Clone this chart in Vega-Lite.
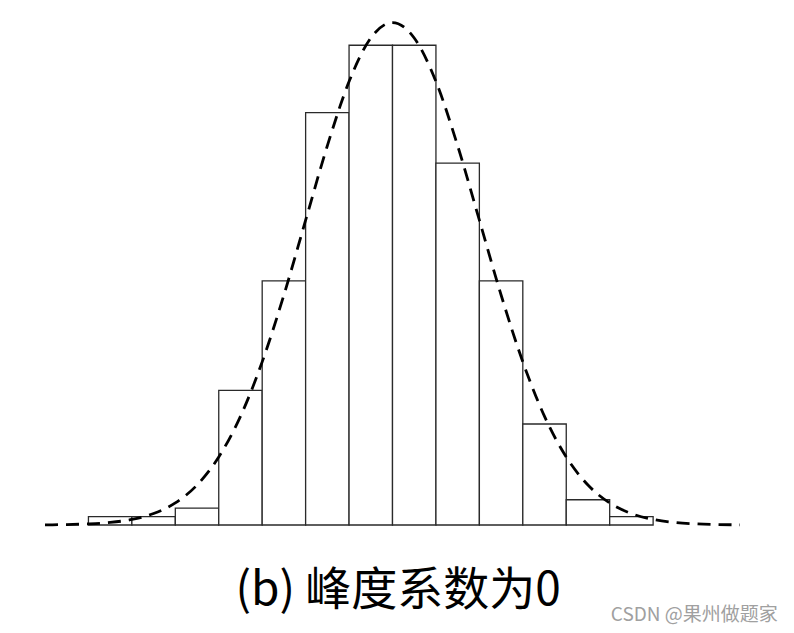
{
  "$schema": "https://vega.github.io/schema/vega-lite/v6.json",
  "width": 695,
  "height": 505,
  "autosize": {"type": "none"},
  "padding": {"left": 45, "top": 20, "right": 54, "bottom": 108},
  "background": "white",
  "config": {"view": {"stroke": null}},
  "datasets": {
    "bars": [
      {"start": -7, "end": -6, "count": 1},
      {"start": -6, "end": -5, "count": 1},
      {"start": -5, "end": -4, "count": 2},
      {"start": -4, "end": -3, "count": 16},
      {"start": -3, "end": -2, "count": 29},
      {"start": -2, "end": -1, "count": 49},
      {"start": -1, "end": 0, "count": 57},
      {"start": 0, "end": 1, "count": 57},
      {"start": 1, "end": 2, "count": 43},
      {"start": 2, "end": 3, "count": 29},
      {"start": 3, "end": 4, "count": 12},
      {"start": 4, "end": 5, "count": 3},
      {"start": 5, "end": 6, "count": 1}
    ],
    "curve": [
      {"x": -8, "y": 0.02}, {"x": -7.5, "y": 0.05}, {"x": -7, "y": 0.13}, {"x": -6.5, "y": 0.30},
      {"x": -6, "y": 0.66}, {"x": -5.5, "y": 1.36}, {"x": -5, "y": 2.62}, {"x": -4.5, "y": 4.75},
      {"x": -4, "y": 8.08}, {"x": -3.5, "y": 12.91}, {"x": -3, "y": 19.38}, {"x": -2.5, "y": 27.33},
      {"x": -2, "y": 36.21}, {"x": -1.5, "y": 45.06}, {"x": -1, "y": 52.69}, {"x": -0.5, "y": 57.86},
      {"x": 0, "y": 59.7},
      {"x": 0.5, "y": 57.86}, {"x": 1, "y": 52.69}, {"x": 1.5, "y": 45.06}, {"x": 2, "y": 36.21},
      {"x": 2.5, "y": 27.33}, {"x": 3, "y": 19.38}, {"x": 3.5, "y": 12.91}, {"x": 4, "y": 8.08},
      {"x": 4.5, "y": 4.75}, {"x": 5, "y": 2.62}, {"x": 5.5, "y": 1.36}, {"x": 6, "y": 0.66},
      {"x": 6.5, "y": 0.30}, {"x": 7, "y": 0.13}, {"x": 7.5, "y": 0.05}, {"x": 8, "y": 0.02}
    ],
    "labels": [
      {"label": "(b) 峰度系数为0", "x": 0.13, "y": -9.5}
    ],
    "mark": [
      {"label": "CSDN @果州做题家", "x": 8.87, "y": -11.4}
    ]
  },
  "layer": [
    {
      "data": {"name": "bars"},
      "mark": {"type": "bar", "fill": "white", "stroke": "#2a2a2a", "strokeWidth": 1.3, "orient": "vertical"},
      "encoding": {
        "x": {"field": "start", "type": "quantitative", "scale": {"domain": [-8, 8], "nice": false, "zero": false, "padding": 0}, "axis": null},
        "x2": {"field": "end"},
        "y": {"field": "count", "type": "quantitative", "scale": {"domain": [0, 60], "nice": false, "padding": 0}, "axis": null},
        "y2": {"datum": 0}
      }
    },
    {
      "data": {"name": "curve"},
      "mark": {"type": "line", "color": "black", "strokeWidth": 2.8, "strokeDash": [13, 8], "interpolate": "monotone"},
      "encoding": {
        "x": {"field": "x", "type": "quantitative"},
        "y": {"field": "y", "type": "quantitative"}
      }
    },
    {
      "data": {"name": "labels"},
      "mark": {"type": "text", "align": "center", "baseline": "alphabetic", "font": "Noto Sans CJK SC", "fontSize": 46, "color": "#000000", "clip": false},
      "encoding": {
        "x": {"field": "x", "type": "quantitative"},
        "y": {"field": "y", "type": "quantitative"},
        "text": {"field": "label"}
      }
    },
    {
      "data": {"name": "mark"},
      "mark": {"type": "text", "align": "right", "baseline": "alphabetic", "font": "Noto Sans CJK SC", "fontSize": 19, "color": "#a0a0a0", "clip": false},
      "encoding": {
        "x": {"field": "x", "type": "quantitative"},
        "y": {"field": "y", "type": "quantitative"},
        "text": {"field": "label"}
      }
    }
  ]
}
